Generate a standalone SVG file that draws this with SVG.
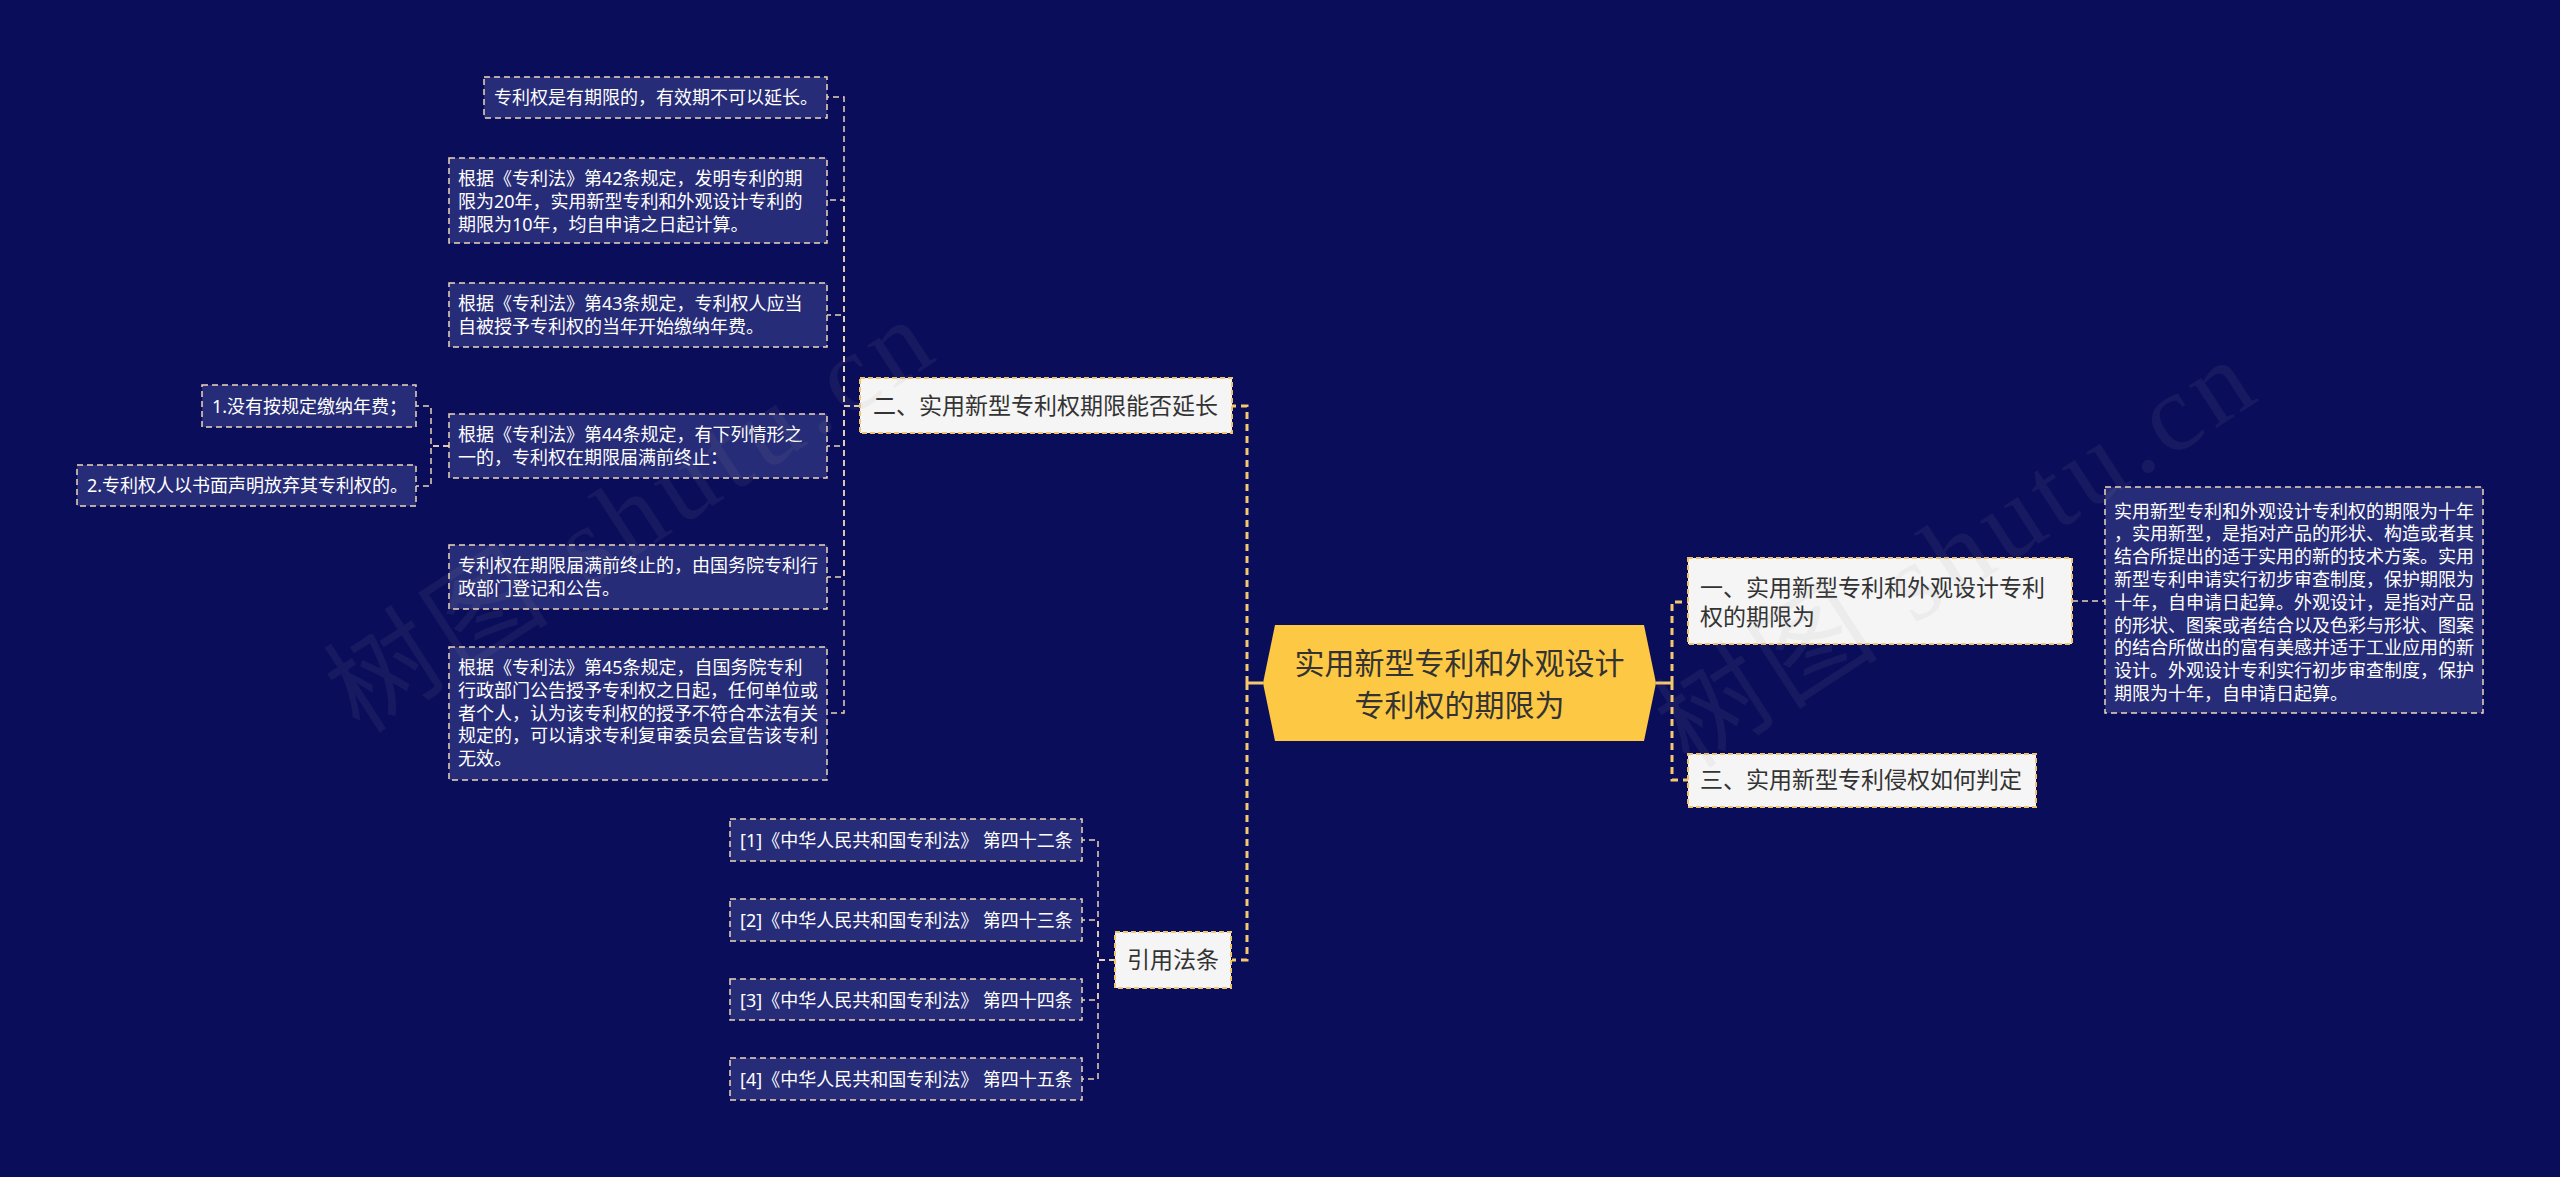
<svg xmlns="http://www.w3.org/2000/svg" width="2560" height="1177" viewBox="0 0 2560 1177">
<style>
text{font-family:"Noto Sans","Noto Sans CJK SC",sans-serif}
.box{fill:#272c78;stroke:#efd6b6;stroke-width:1.5;stroke-dasharray:6 4}
.bt{fill:#ffffff;font-size:18px}
.node{fill:#f5f5f5;stroke:#f2c46a;stroke-width:2;stroke-dasharray:5 3}
.nt{fill:#333333;font-size:23px}
.main{fill:none;stroke:#f6c86e;stroke-width:3;stroke-dasharray:7 5}
.mains{fill:none;stroke:#f6c86e;stroke-width:3}
.sub{fill:none;stroke:#e9d4b4;stroke-width:1.5;stroke-dasharray:6 4}
.wm{font-family:"Liberation Serif","Noto Sans CJK SC",serif;font-size:110px;fill:#9a9a9a;opacity:0.09}
</style>
<rect width="2560" height="1177" fill="#0a0d5a"/>

<g id="connectors">
  <path class="mains" d="M1263 683 H1247"/>
  <path class="main" d="M1247 683 V406 H1232"/>
  <path class="main" d="M1247 683 V960 H1232"/>
  <path class="mains" d="M1656 683 H1672"/>
  <path class="main" d="M1672 683 V602 H1688"/>
  <path class="main" d="M1672 683 V780 H1688"/>
  <path class="sub" d="M860 406 H844 V97 H827"/>
  <path class="sub" d="M860 406 H844 V200 H827"/>
  <path class="sub" d="M860 406 H844 V315 H827"/>
  <path class="sub" d="M860 406 H844 V446 H827"/>
  <path class="sub" d="M860 406 H844 V577 H827"/>
  <path class="sub" d="M860 406 H844 V713 H827"/>
  <path class="sub" d="M449 446 H431 V406 H416"/>
  <path class="sub" d="M449 446 H431 V486 H416"/>
  <path class="sub" d="M2072 601 H2105"/>
  <path class="sub" d="M1115 960 H1098 V840 H1082"/>
  <path class="sub" d="M1115 960 H1098 V920 H1082"/>
  <path class="sub" d="M1115 960 H1098 V1000 H1082"/>
  <path class="sub" d="M1115 960 H1098 V1079 H1082"/>
</g>

<g id="center">
  <polygon points="1263,683 1275,625 1644,625 1656,683 1644,741 1275,741" fill="#fdc844"/>
  <text x="1459.5" y="674" font-size="30" fill="#333333" text-anchor="middle">实用新型专利和外观设计</text>
  <text x="1459.5" y="716" font-size="30" fill="#333333" text-anchor="middle">专利权的期限为</text>
</g>

<g id="n2">
  <rect class="node" x="860" y="378" width="372" height="55"/>
  <text class="nt" x="873" y="414">二、实用新型专利权期限能否延长</text>
</g>
<g id="n1">
  <rect class="node" x="1688" y="558" width="384" height="86"/>
  <text class="nt"><tspan x="1700" y="596">一、实用新型专利和外观设计专利</tspan><tspan x="1700" y="625">权的期限为</tspan></text>
</g>
<g id="n3">
  <rect class="node" x="1688" y="754" width="348" height="53"/>
  <text class="nt" x="1700" y="788">三、实用新型专利侵权如何判定</text>
</g>
<g id="ncite">
  <rect class="node" x="1115" y="932" width="116" height="56"/>
  <text class="nt" x="1127" y="968">引用法条</text>
</g>

<g id="b1">
  <rect class="box" x="484" y="77" width="343" height="41"/>
  <text class="bt" x="494" y="104">专利权是有期限的，有效期不可以延长。</text>
</g>
<g id="b2">
  <rect class="box" x="449" y="158" width="378" height="85"/>
  <text class="bt"><tspan x="458" y="185">根据《专利法》第42条规定，发明专利的期</tspan><tspan x="458" y="208">限为20年，实用新型专利和外观设计专利的</tspan><tspan x="458" y="230.5">期限为10年，均自申请之日起计算。</tspan></text>
</g>
<g id="b3">
  <rect class="box" x="449" y="283" width="378" height="64"/>
  <text class="bt"><tspan x="458" y="310">根据《专利法》第43条规定，专利权人应当</tspan><tspan x="458" y="333">自被授予专利权的当年开始缴纳年费。</tspan></text>
</g>
<g id="b4">
  <rect class="box" x="449" y="414" width="378" height="64"/>
  <text class="bt"><tspan x="458" y="441">根据《专利法》第44条规定，有下列情形之</tspan><tspan x="458" y="464">一的，专利权在期限届满前终止：</tspan></text>
</g>
<g id="b4a">
  <rect class="box" x="202" y="385" width="214" height="42"/>
  <text class="bt" x="212" y="412.5">1.没有按规定缴纳年费；</text>
</g>
<g id="b4b">
  <rect class="box" x="77" y="465" width="339" height="41"/>
  <text class="bt" x="87" y="492">2.专利权人以书面声明放弃其专利权的。</text>
</g>
<g id="b5">
  <rect class="box" x="449" y="545" width="378" height="64"/>
  <text class="bt"><tspan x="458" y="572">专利权在期限届满前终止的，由国务院专利行</tspan><tspan x="458" y="595">政部门登记和公告。</tspan></text>
</g>
<g id="b6">
  <rect class="box" x="449" y="647" width="378" height="133"/>
  <text class="bt"><tspan x="458" y="674">根据《专利法》第45条规定，自国务院专利</tspan><tspan x="458" y="697">行政部门公告授予专利权之日起，任何单位或</tspan><tspan x="458" y="719.5">者个人，认为该专利权的授予不符合本法有关</tspan><tspan x="458" y="742">规定的，可以请求专利复审委员会宣告该专利</tspan><tspan x="458" y="765">无效。</tspan></text>
</g>

<g id="bdesc">
  <rect class="box" x="2105" y="487" width="378" height="226"/>
  <text class="bt"><tspan x="2114" y="517.5">实用新型专利和外观设计专利权的期限为十年</tspan><tspan x="2114" y="540.3">，实用新型，是指对产品的形状、构造或者其</tspan><tspan x="2114" y="563">结合所提出的适于实用的新的技术方案。实用</tspan><tspan x="2114" y="586">新型专利申请实行初步审查制度，保护期限为</tspan><tspan x="2114" y="608.7">十年，自申请日起算。外观设计，是指对产品</tspan><tspan x="2114" y="631.5">的形状、图案或者结合以及色彩与形状、图案</tspan><tspan x="2114" y="654.3">的结合所做出的富有美感并适于工业应用的新</tspan><tspan x="2114" y="677">设计。外观设计专利实行初步审查制度，保护</tspan><tspan x="2114" y="700">期限为十年，自申请日起算。</tspan></text>
</g>

<g id="c1">
  <rect class="box" x="730" y="819" width="352" height="42"/>
  <text class="bt" x="740" y="846.5">[1]《中华人民共和国专利法》 第四十二条</text>
</g>
<g id="c2">
  <rect class="box" x="730" y="899" width="352" height="42"/>
  <text class="bt" x="740" y="926.5">[2]《中华人民共和国专利法》 第四十三条</text>
</g>
<g id="c3">
  <rect class="box" x="730" y="979" width="352" height="41"/>
  <text class="bt" x="740" y="1006.5">[3]《中华人民共和国专利法》 第四十四条</text>
</g>
<g id="c4">
  <rect class="box" x="730" y="1058" width="352" height="42"/>
  <text class="bt" x="740" y="1085.5">[4]《中华人民共和国专利法》 第四十五条</text>
</g>

<g id="watermark">
  <text class="wm" x="360" y="735" transform="rotate(-33 360 735)" textLength="690" lengthAdjust="spacing">树图 shutu.cn</text>
  <text class="wm" x="1690" y="770" transform="rotate(-33 1690 770)" textLength="680" lengthAdjust="spacing">树图 shutu.cn</text>
</g>
</svg>
